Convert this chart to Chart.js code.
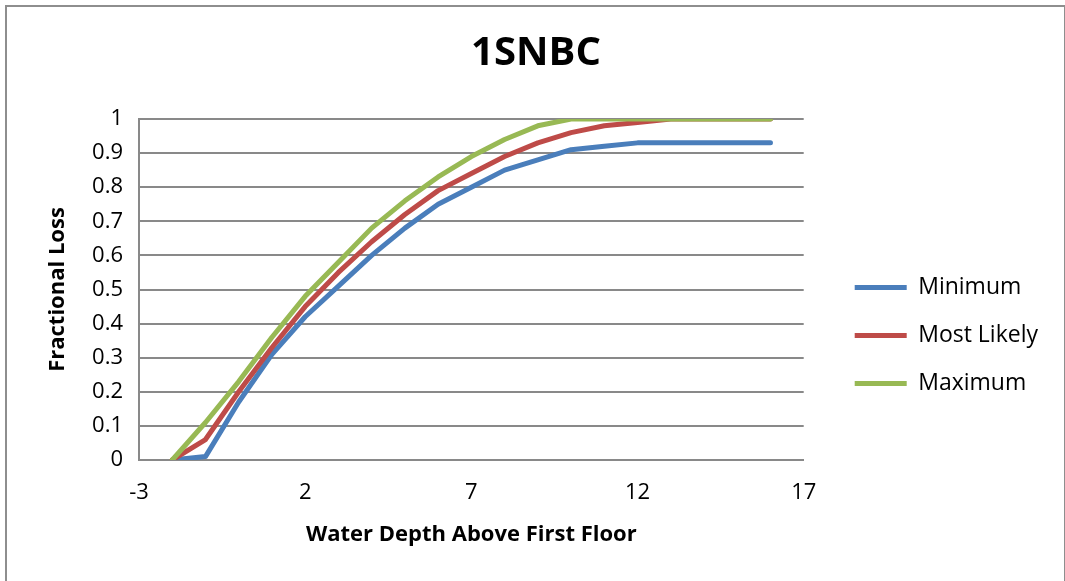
<!DOCTYPE html>
<html lang="en">
<head>
  <title>1SNBC</title>
  <meta charset="UTF-8">
  <style>
    body { margin: 0; background: #fff; }
    #frame { position: absolute; left: 5px; top: 5px; width: 1057px; height: 620px;
             border: 2px solid #8e8e8e; border-bottom: none; }
    #wrap { position: absolute; left: 0; top: 0; width: 1065px; height: 581px; }
  </style>
</head>
<body>

  <div id="frame"></div>
  <div id="wrap"><canvas id="lossChart"></canvas></div>

  <script src="https://cdn.jsdelivr.net/npm/chart.js"></script>
  <script>
    // water depth above first floor (ft)
    const depths = [-2, -1, 0, 1, 2, 3, 4, 5, 6, 7, 8, 9, 10, 11, 12, 13, 14, 15, 16];
    const minimum = [0, 0.01, 0.17, 0.31, 0.42, 0.51, 0.60, 0.68, 0.75, 0.80, 0.85, 0.88, 0.91, 0.92, 0.93, 0.93, 0.93, 0.93, 0.93];
    const mostLikely = [0, 0.06, 0.20, 0.33, 0.45, 0.55, 0.64, 0.72, 0.79, 0.84, 0.89, 0.93, 0.96, 0.98, 0.99, 1, 1, 1, 1];
    const maximum = [0, 0.11, 0.23, 0.36, 0.48, 0.58, 0.68, 0.76, 0.83, 0.89, 0.94, 0.98, 1, 1, 1, 1, 1, 1, 1];
    const xTicks = [-3, 2, 7, 12, 17];

    const gridGray = '#898989';

    function points(vals) {
      return depths.map((d, i) => ({ x: d, y: vals[i] }));
    }

    function series(label, vals, color, order) {
      return {
        label: label,
        data: points(vals),
        borderColor: color,
        backgroundColor: color,
        borderWidth: 5,
        borderCapStyle: 'round',
        borderJoinStyle: 'round',
        pointRadius: 0,
        tension: 0,
        order: order
      };
    }

    // push the legend a bit right and down like the excel one
    const legendNudge = {
      id: 'legendNudge',
      afterLayout(chart) {
        const lg = chart.legend;
        lg.left = chart.chartArea.right + 26;
        lg.right = lg.left + lg.width;
        lg.top += 45;
        lg.bottom += 45;
      }
    };

    Chart.defaults.font.family = "'Open Sans', 'Liberation Sans', sans-serif";
    Chart.defaults.color = '#000';

    const ctx = document.getElementById('lossChart').getContext('2d');
    new Chart(ctx, {
      type: 'line',
      data: {
        datasets: [
          series('Minimum', minimum, '#4a7ebb', 3),
          series('Most Likely', mostLikely, '#be4b48', 2),
          series('Maximum', maximum, '#98b954', 1)
        ]
      },
      plugins: [legendNudge],
      options: {
        responsive: true,
        maintainAspectRatio: false,
        animation: false,
        layout: { padding: { left: 50, right: 43, top: 0, bottom: 0 } },
        plugins: {
          title: {
            display: true,
            text: '1SNBC',
            font: { size: 40, weight: 'bold' },
            padding: { top: 30, bottom: 41 }
          },
          legend: {
            position: 'right',
            labels: {
              font: { size: 23 },
              usePointStyle: true,
              pointStyle: 'line',
              pointStyleWidth: 52,
              padding: 25,
              sort: (a, b) => a.datasetIndex - b.datasetIndex
            }
          },
          tooltip: { enabled: false }
        },
        scales: {
          x: {
            type: 'linear',
            min: -3,
            max: 17,
            afterBuildTicks: (scale) => { scale.ticks = xTicks.map(v => ({ value: v })); },
            afterFit: (scale) => { scale.height = 121; },
            grid: { display: false, drawTicks: false },
            border: { display: true, color: gridGray, width: 2 },
            ticks: { font: { size: 22 }, padding: 20, maxRotation: 0 },
            title: {
              display: true,
              text: 'Water Depth Above First Floor',
              font: { size: 22, weight: 'bold' },
              padding: { top: 0, bottom: 33 }
            }
          },
          y: {
            min: 0,
            max: 1,
            afterFit: (scale) => { scale.width = 89; },
            grid: { color: gridGray, lineWidth: 2, drawTicks: false },
            border: { display: true, color: gridGray, width: 2 },
            ticks: {
              stepSize: 0.1,
              font: { size: 22 },
              padding: 16,
              callback: (v) => String(Math.round(v * 10) / 10)
            },
            title: {
              display: true,
              text: 'Fractional Loss',
              font: { size: 22, weight: 'bold' },
              padding: { top: -5, bottom: 0 }
            }
          }
        }
      }
    });
  </script>
</body>
</html>
